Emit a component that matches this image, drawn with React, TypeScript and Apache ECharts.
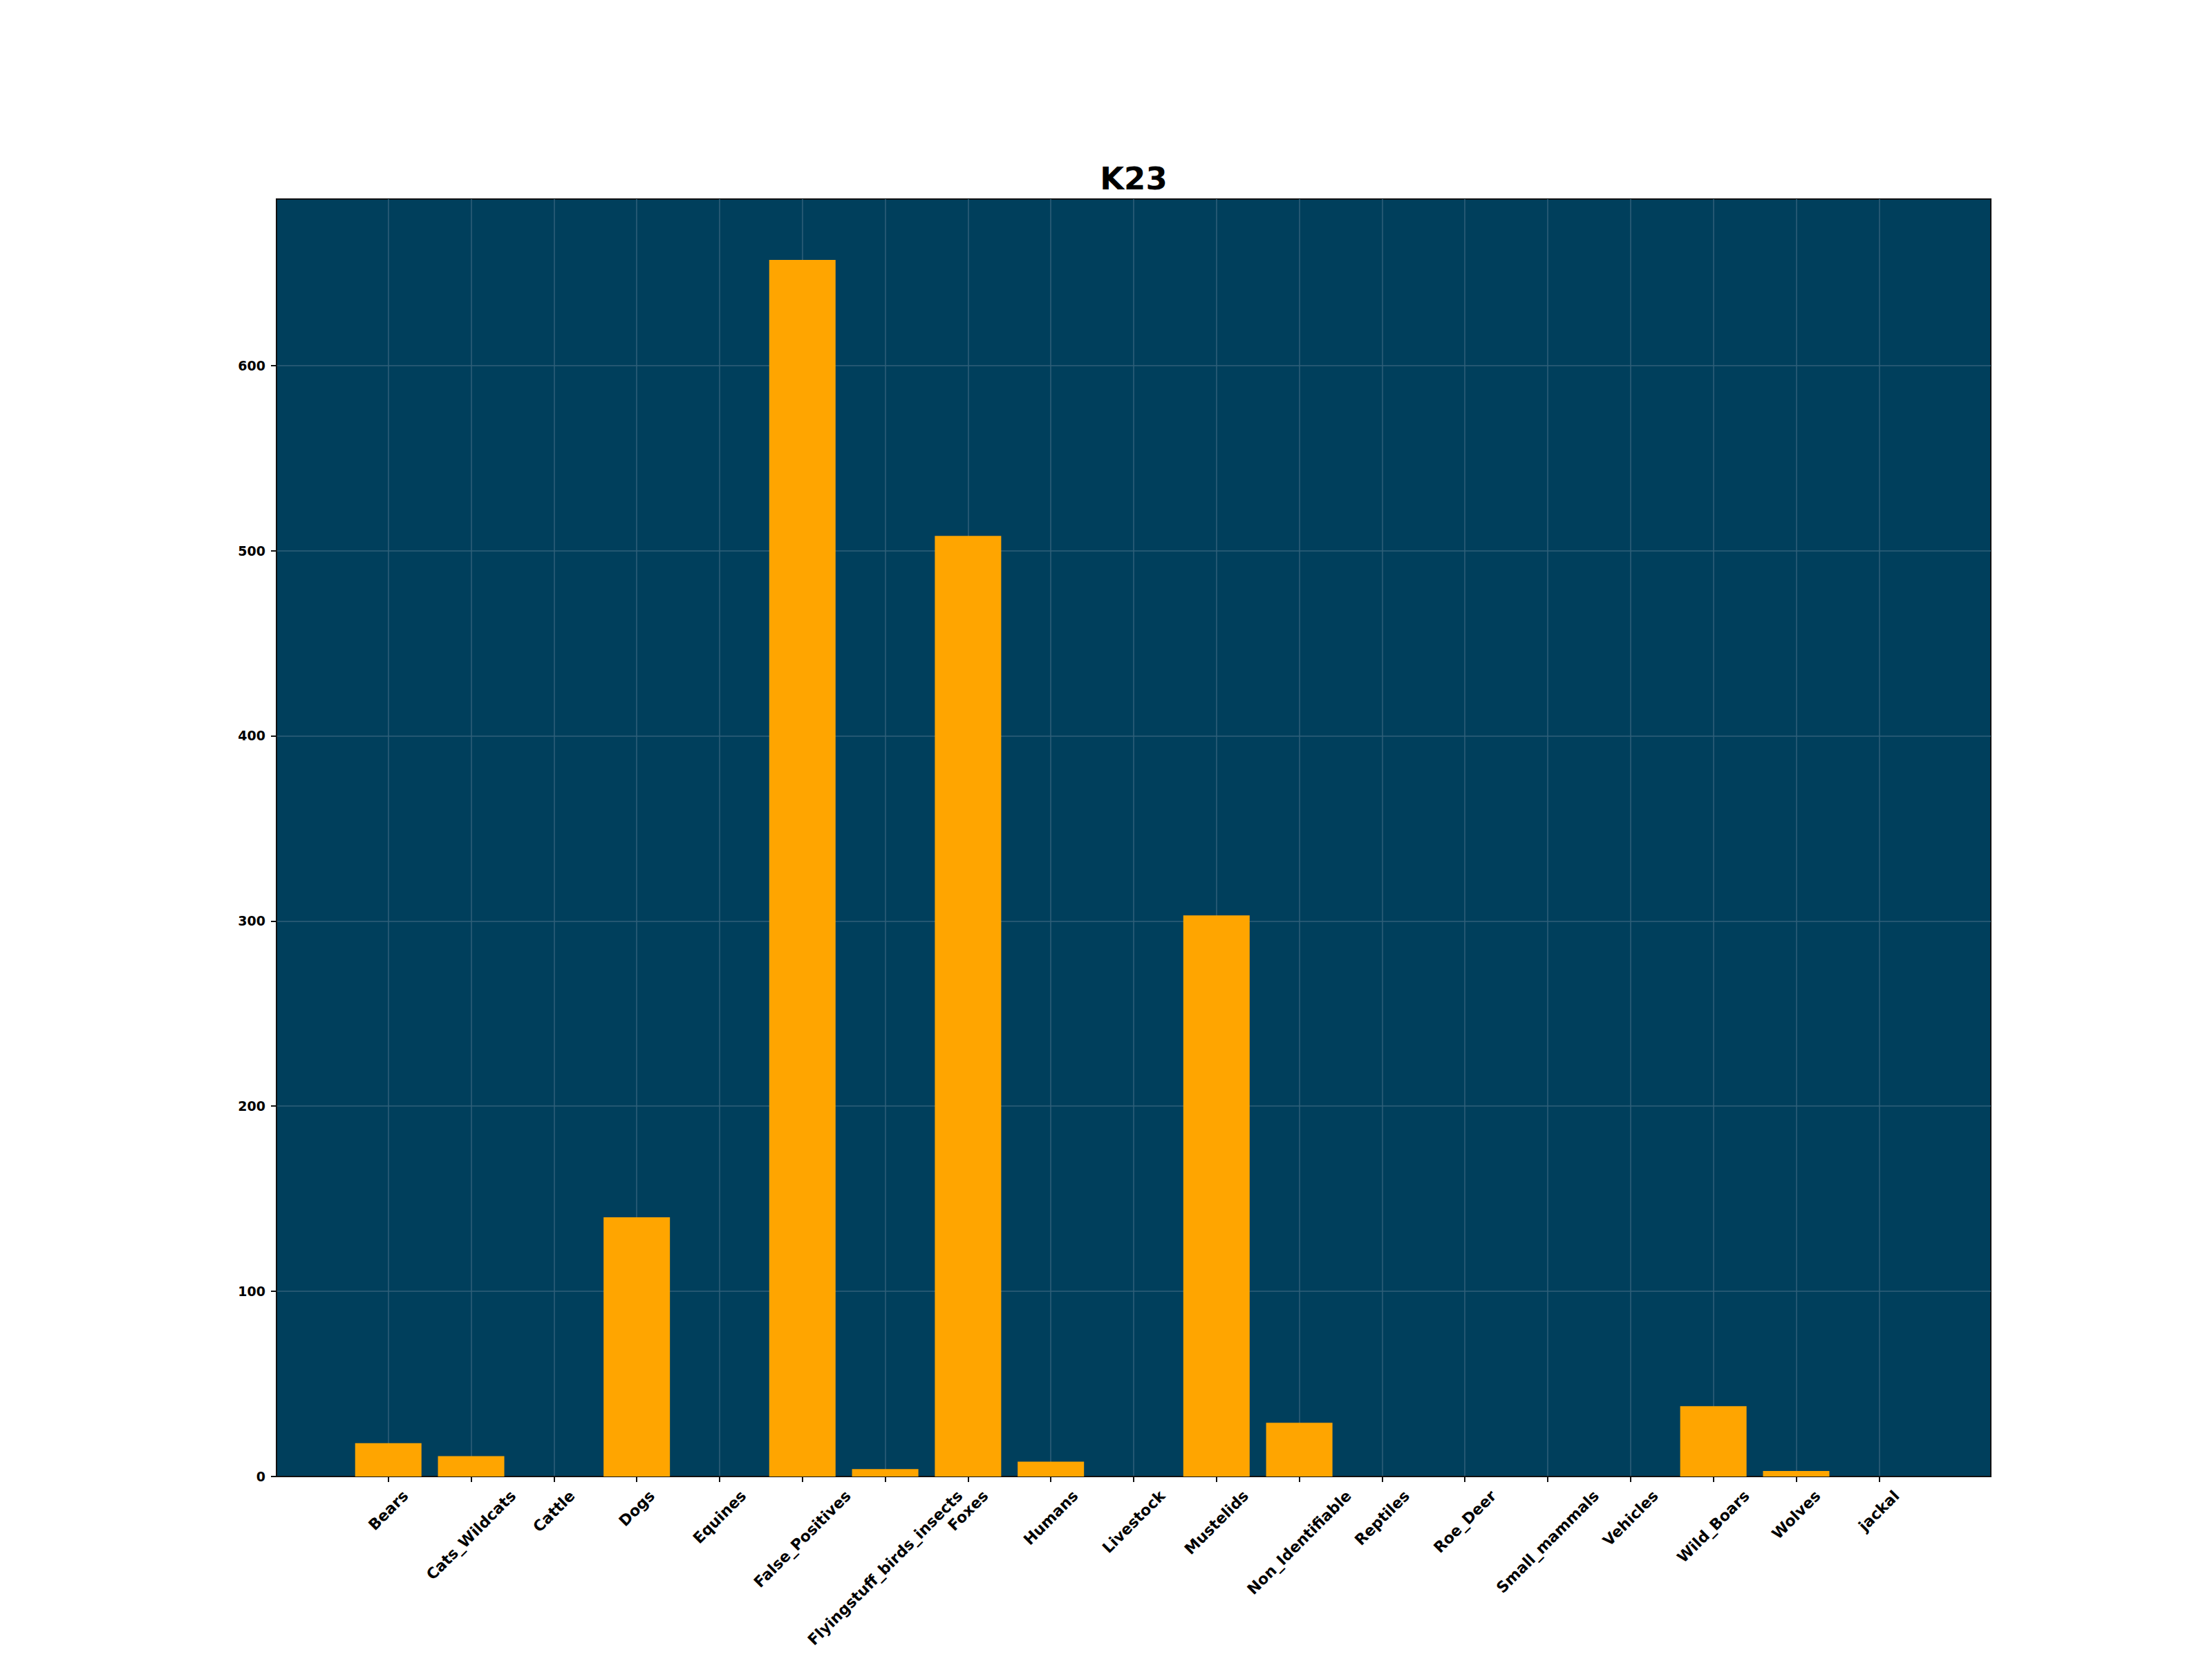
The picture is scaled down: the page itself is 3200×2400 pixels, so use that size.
import React, { useEffect, useRef } from "react";
import * as echarts from "echarts";

const chartTitle = "K23";
const categories = [
  "Bears",
  "Cats_Wildcats",
  "Cattle",
  "Dogs",
  "Equines",
  "False_Positives",
  "Flyingstuff_birds_insects",
  "Foxes",
  "Humans",
  "Livestock",
  "Mustelids",
  "Non_Identifiable",
  "Reptiles",
  "Roe_Deer",
  "Small_mammals",
  "Vehicles",
  "Wild_Boars",
  "Wolves",
  "jackal",
];
const counts = [18, 11, 0, 140, 0, 657, 4, 508, 8, 0, 303, 29, 0, 0, 0, 0, 38, 3, 0];
const yTicks = [0, 100, 200, 300, 400, 500, 600];

const FONT = "'DejaVu Sans', 'Liberation Sans', sans-serif";
const X_FS = 22;
const Y_FS = 19;

export default function App() {
  const ref = useRef<HTMLDivElement>(null);

  useEffect(() => {
    document.body.style.margin = "0";
    const el = ref.current!;
    const chart = echarts.init(el, null, { renderer: "svg", width: 3200, height: 2400 });
    const idx = categories.map((_, i) => i);
    const maxVal = Math.max(...counts);

    chart.setOption({
      animation: false,
      backgroundColor: "#ffffff",
      title: {
        text: chartTitle,
        left: 1640,
        textAlign: "center",
        top: 236,
        padding: 0,
        textStyle: { fontFamily: FONT, fontWeight: "bold", fontSize: 45, color: "#000" },
      },
      grid: {
        left: 400,
        right: 320,
        top: 288,
        bottom: 264,
        show: true,
        backgroundColor: "#003f5c",
        borderColor: "#111111",
        borderWidth: 2,
      },
      xAxis: {
        type: "value",
        min: -1.35,
        max: categories.length - 1 + 1.35,
        axisLine: { show: true, onZero: false, lineStyle: { color: "#111", width: 2 } },
        axisTick: {
          show: true,
          customValues: idx,
          length: 8,
          lineStyle: { color: "#111", width: 2 },
        },
        axisLabel: { show: false, customValues: idx },
        splitLine: { show: true, lineStyle: { color: "#30607a", width: 1.5 } },
      },
      yAxis: {
        type: "value",
        min: 0,
        max: maxVal * 1.05,
        axisLine: { show: true, onZero: false, lineStyle: { color: "#111", width: 2 } },
        axisTick: {
          show: true,
          customValues: yTicks,
          length: 8,
          lineStyle: { color: "#111", width: 2 },
        },
        axisLabel: {
          show: true,
          customValues: yTicks,
          margin: 16,
          fontFamily: FONT,
          fontWeight: "bold",
          fontSize: Y_FS,
          color: "#000",
        },
        splitLine: { show: true, lineStyle: { color: "#30607a", width: 1.5 } },
      },
      series: [
        {
          type: "bar",
          data: counts.map((v, i) => [i, v]),
          barWidth: 96,
          itemStyle: { color: "#ffa500", borderWidth: 0 },
        },
      ],
    });

    const ctx = document.createElement("canvas").getContext("2d")!;
    ctx.font = `bold ${X_FS}px 'DejaVu Sans'`;
    const axisY = (chart.convertToPixel({ gridIndex: 0 }, [0, 0]) as number[])[1];
    const h = X_FS * 1.17;
    const labels = categories.map((c, i) => {
      const x = chart.convertToPixel({ xAxisIndex: 0 }, i) as number;
      const w = ctx.measureText(c).width;
      const cy = axisY + 15 + ((w + h) * Math.SQRT1_2) / 2;
      return {
        type: "text",
        x,
        y: cy,
        rotation: Math.PI / 4,
        silent: true,
        style: {
          text: c,
          fontFamily: FONT,
          fontWeight: "bold",
          fontSize: X_FS,
          fill: "#000",
          align: "center",
          verticalAlign: "middle",
          textAlign: "center",
          textVerticalAlign: "middle",
        },
      };
    });
    chart.setOption({ graphic: labels });

    return () => chart.dispose();
  }, []);

  return <div ref={ref} style={{ width: 3200, height: 2400 }} />;
}
